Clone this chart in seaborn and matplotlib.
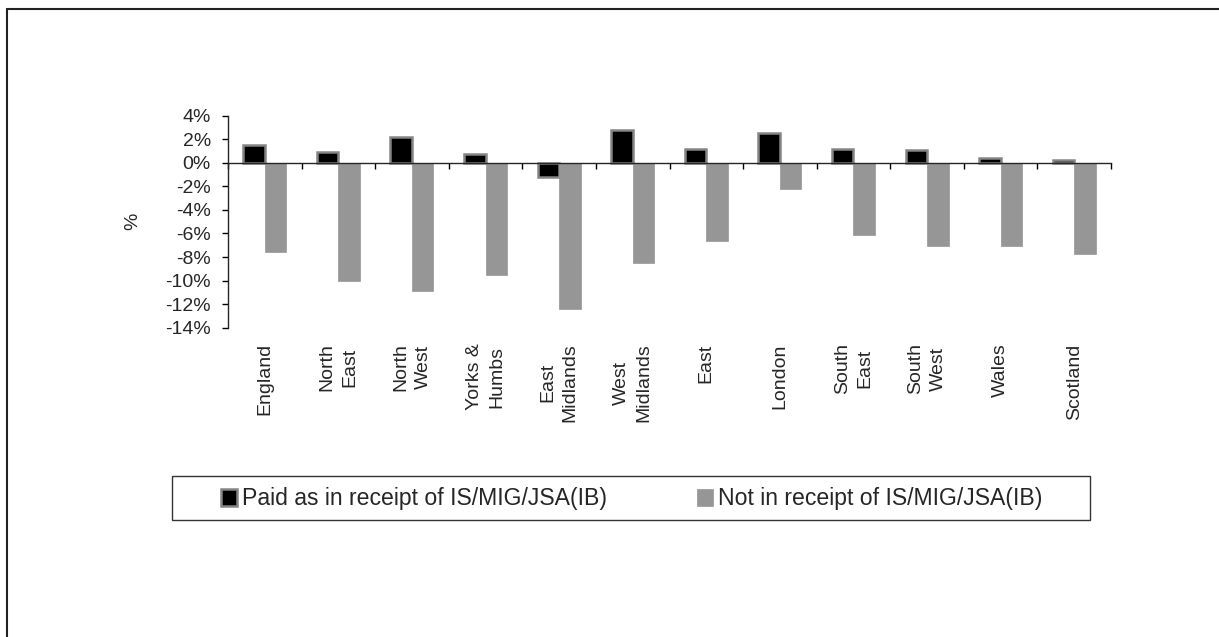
import matplotlib
matplotlib.use("Agg")
import matplotlib.pyplot as plt
import numpy as np
import pandas as pd
import seaborn as sns
from matplotlib.patches import Rectangle
from matplotlib.lines import Line2D

# chart values (percent change by region)
regions = ["England", "North\nEast", "North\nWest", "Yorks &\nHumbs", "East\nMidlands",
           "West\nMidlands", "East", "London", "South\nEast", "South\nWest", "Wales", "Scotland"]
series = ["Paid as in receipt of IS/MIG/JSA(IB)", "Not in receipt of IS/MIG/JSA(IB)"]
paid = [1.5, 0.9, 2.2, 0.75, -1.2, 2.8, 1.15, 2.55, 1.2, 1.1, 0.45, 0.25]
not_paid = [-7.6, -10.0, -10.9, -9.5, -12.4, -8.5, -6.6, -2.2, -6.1, -7.05, -7.05, -7.75]
yticks = [-14, -12, -10, -8, -6, -4, -2, 0, 2, 4]

df = pd.DataFrame({
    "region": regions * 2,
    "value": paid + not_paid,
    "series": [series[0]] * len(regions) + [series[1]] * len(regions),
})

sns.set_style("ticks")
plt.rcParams["font.family"] = ["Liberation Sans", "DejaVu Sans"]

W, H = 1219, 637
fig = plt.figure(figsize=(W / 100, H / 100), dpi=100)
ax = fig.add_axes([228 / W, 1 - 327.7 / H, (1111 - 228) / W, (327.7 - 115.7) / H])

sns.barplot(data=df, x="region", y="value", hue="series", hue_order=series,
            palette=["black", "#969696"], width=0.585, gap=0, ax=ax, legend=False)

# black bars have a grey outline, grey bars none
for p in ax.containers[0]:
    p.set_edgecolor("#858585")
    p.set_linewidth(1.8)
for p in ax.containers[1]:
    p.set_edgecolor("#969696")
    p.set_linewidth(0.5)

ax.set_ylim(-14, 4)
ax.set_xlim(-0.5, len(regions) - 0.5)
ax.set_yticks(yticks)
ax.set_yticklabels([f"{v}%" for v in yticks], fontsize=14)
ax.set_ylabel("%", fontsize=14)
ax.yaxis.set_label_coords(-0.098, 0.5)
ax.set_xlabel("")

# x axis sits on zero, tick marks between categories
ax.spines["top"].set_visible(False)
ax.spines["right"].set_visible(False)
ax.spines["bottom"].set_position(("data", 0))
ax.spines["bottom"].set_linewidth(1)
ax.spines["left"].set_linewidth(1)
ax.set_xticks(np.arange(-0.5, len(regions), 1), minor=True)
ax.tick_params(axis="x", which="minor", length=4.3, width=1, direction="out", color="black")
ax.tick_params(axis="x", which="major", length=0, pad=130)
ax.tick_params(axis="y", length=4.3, width=1, pad=8, color="black")
for lab in ax.get_xticklabels():
    lab.set_rotation(90)
    lab.set_fontsize(14)
    lab.set_multialignment("center")
    lab.set_linespacing(1.4)

# legend with its own frame
fig.legend(ax.containers[:2], series, loc="center", bbox_to_anchor=(632 / W, 1 - 499 / H),
           ncol=2, frameon=False, fontsize=16.6, handlelength=0.7, handleheight=0.7,
           handletextpad=0.22, columnspacing=3.9, borderaxespad=0)
fig.add_artist(Rectangle((171.7 / W, 1 - 520 / H), (1090 - 171.7) / W, 44 / H,
                         transform=fig.transFigure, fill=False, edgecolor="#333333", lw=1))

# outer border (top and left only)
fig.add_artist(Line2D([7 / W, 1], [1 - 9 / H] * 2, transform=fig.transFigure, color="#222222", lw=1.5))
fig.add_artist(Line2D([7 / W] * 2, [1 - 9 / H, 0], transform=fig.transFigure, color="#222222", lw=1.5))

fig.savefig("out.png", dpi=100)
